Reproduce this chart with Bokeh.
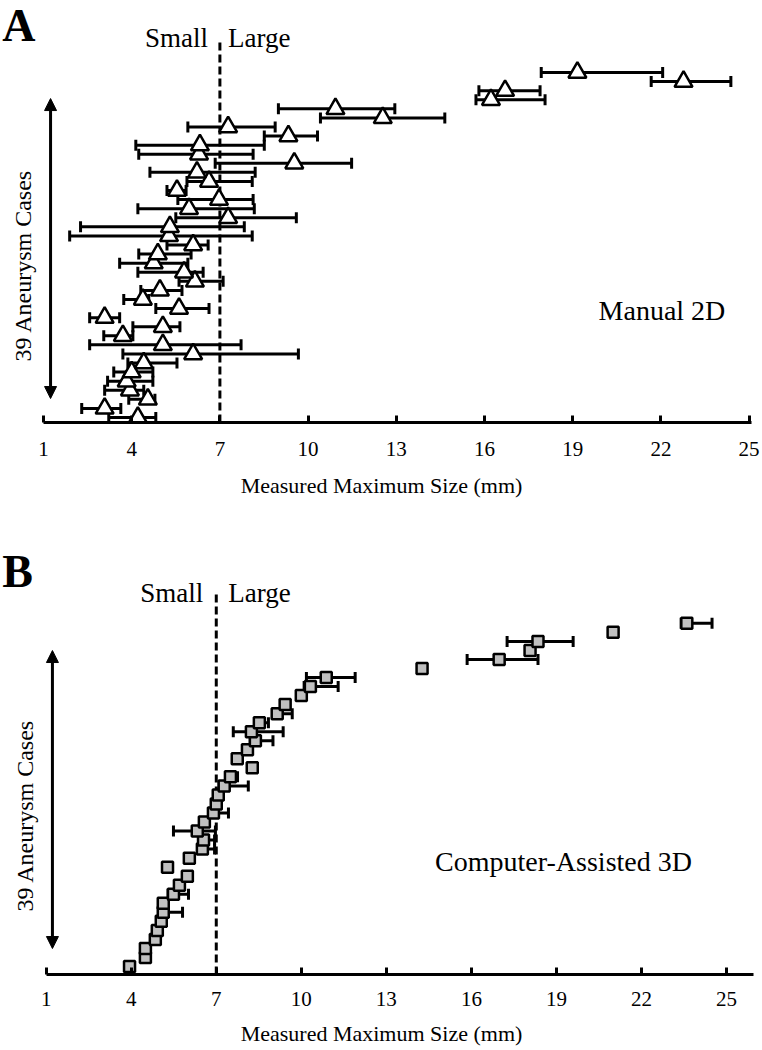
import math
from bokeh.plotting import figure
from bokeh.layouts import column
from bokeh.models import (ColumnDataSource, Whisker, TeeHead, Label, Arrow,
                          NormalHead, FixedTicker)
from bokeh.embed import file_html
from bokeh.resources import INLINE

# ---------------- data ----------------
x_ticks = [1, 4, 7, 10, 13, 16, 19, 22, 25]
threshold = 7
cases = list(range(1, 40))  # case 1 = bottom row

# Panel A: Manual 2D (mean and range per case, bottom -> top)
manual_mean = [4.21, 3.08, 4.55, 3.94, 3.83, 4.00, 4.41, 6.09, 5.06, 3.70,
               5.06, 3.08, 5.61, 4.38, 4.96, 6.15, 5.78, 4.75, 4.89, 6.09,
               5.27, 5.30, 7.28, 5.95, 6.97, 5.54, 6.63, 6.22, 9.53, 6.29,
               6.32, 9.33, 7.28, 12.54, 10.93, 16.22, 16.70, 22.77, 19.16]
manual_low = [3.22, 2.30, 3.90, 3.08, 3.18, 3.39, 3.87, 3.70, 2.57, 3.05,
              4.04, 2.57, 4.82, 3.73, 4.31, 5.61, 4.21, 3.59, 4.24, 5.20,
              1.89, 2.26, 5.50, 4.21, 5.57, 5.20, 5.88, 4.62, 6.84, 4.24,
              4.14, 8.51, 5.91, 10.42, 8.99, 15.71, 15.81, 21.67, 17.93]
manual_high = [4.82, 3.63, 4.79, 4.41, 4.72, 4.72, 5.54, 9.67, 7.72, 4.04,
               5.64, 3.59, 6.63, 4.58, 5.71, 7.11, 6.43, 5.91, 6.02, 6.60,
               8.10, 7.83, 9.60, 8.17, 8.13, 5.85, 8.10, 8.20, 11.48, 8.13,
               8.51, 10.32, 8.88, 14.65, 12.95, 18.06, 17.89, 24.38, 22.06]

# Panel B: Computer-Assisted 3D (bottom -> top)
auto_mean = [3.94, 4.50, 4.50, 4.85, 4.92, 5.06, 5.13, 5.13, 5.49, 5.70,
             5.98, 5.28, 6.05, 6.51, 6.55, 6.33, 6.58, 6.90, 7.00, 7.07,
             7.28, 7.50, 8.27, 7.74, 8.10, 8.38, 8.24, 8.52, 9.15, 9.43,
             10.00, 10.32, 10.88, 14.26, 16.98, 18.07, 18.35, 21.00, 23.60]
auto_low = [3.94, 4.50, 4.50, 4.85, 4.92, 5.06, 5.00, 5.13, 5.30, 5.70,
            5.98, 5.28, 6.05, 6.40, 6.40, 5.49, 6.58, 6.80, 7.00, 7.07,
            7.10, 7.40, 8.10, 7.74, 8.10, 8.20, 7.60, 8.40, 9.00, 9.43,
            10.00, 10.10, 10.18, 14.26, 15.85, 18.07, 17.26, 21.00, 23.40]
auto_high = [3.94, 4.50, 4.50, 4.85, 4.92, 5.06, 5.81, 5.13, 6.02, 5.70,
             5.98, 5.28, 6.05, 6.94, 6.94, 6.97, 6.58, 7.43, 7.00, 7.07,
             8.13, 7.75, 8.40, 7.74, 8.10, 9.00, 9.36, 8.84, 9.68, 9.43,
             10.00, 11.30, 11.90, 14.26, 18.35, 18.07, 19.59, 21.00, 24.49]

SERIF = "Liberation Serif"


def style_axis(p, bounds, standoff, label_standoff):
    ax = p.xaxis[0]
    ax.ticker = FixedTicker(ticks=x_ticks)
    ax.bounds = bounds
    ax.axis_label = "Measured Maximum Size (mm)"
    ax.axis_label_text_font = SERIF
    ax.axis_label_text_font_size = "22px"
    ax.axis_label_text_font_style = "normal"
    ax.axis_label_text_color = "black"
    ax.axis_label_standoff = label_standoff
    ax.major_label_text_font = SERIF
    ax.major_label_text_font_size = "21px"
    ax.major_label_text_color = "black"
    ax.major_label_standoff = standoff
    ax.axis_line_width = 3
    ax.axis_line_color = "black"
    ax.major_tick_line_width = 3
    ax.major_tick_line_color = "black"
    ax.major_tick_in = 7
    ax.major_tick_out = 0
    ax.minor_tick_line_color = None
    p.xgrid.visible = False
    p.ygrid.visible = False
    p.outline_line_color = None


def add_whiskers(p, low, high):
    sel = [i for i in range(len(cases)) if high[i] > low[i]]
    src = ColumnDataSource(dict(
        y=[cases[i] for i in sel],
        lo=[low[i] for i in sel],
        hi=[high[i] for i in sel],
    ))
    w = Whisker(source=src, base="y", lower="lo", upper="hi",
                dimension="width", line_width=3, line_color="black",
                level="underlay",
                lower_head=TeeHead(size=11, line_width=3, line_color="black"),
                upper_head=TeeHead(size=11, line_width=3, line_color="black"))
    p.add_layout(w)


def add_text(p, x, y, text, size, align="left", baseline="middle",
             angle=0.0, x_offset=0, style="normal"):
    p.add_layout(Label(x=x, y=y, text=text, text_font=SERIF,
                       text_font_size=size, text_align=align,
                       text_baseline=baseline, angle=angle,
                       x_offset=x_offset, text_font_style=style,
                       text_color="black"))


def add_arrow(p, x, y0, y1):
    p.add_layout(Arrow(x_start=x, y_start=y0, x_end=x, y_end=y1,
                       line_width=3, line_color="black",
                       start=NormalHead(size=12, fill_color="black", line_color="black"),
                       end=NormalHead(size=12, fill_color="black", line_color="black")))


# ---------------- Panel A ----------------
pA = figure(width=762, height=517, x_range=(-0.4626, 25.456),
            y_range=(0.449, 46.93),
            output_backend="svg", toolbar_location=None, y_axis_location=None,
            min_border_left=0, min_border_right=0, min_border_top=0,
            min_border_bottom=95, background_fill_color="white",
            border_fill_color="white")
style_axis(pA, (1, 25.08), standoff=19, label_standoff=14)
pA.segment(x0=threshold, y0=0.449, x1=threshold, y1=42.74, line_color="black",
           line_width=3, line_dash="8 4")
add_whiskers(pA, manual_low, manual_high)
srcA = ColumnDataSource(dict(x=manual_mean, y=cases))
pA.scatter("x", "y", source=srcA, marker="triangle", size=18,
           fill_color="white", line_color="black", line_width=2.5)
add_arrow(pA, 1.24, 3.09, 36.13)
add_text(pA, threshold, 42.85, "Small", "27px", align="right", x_offset=-12)
add_text(pA, threshold, 42.85, "Large", "27px", align="left", x_offset=8)
add_text(pA, 19.88, 12.78, "Manual 2D", "28px")
add_text(pA, 0.286, 17.74, "39 Aneurysm Cases", "24px", align="center",
         angle=math.pi / 2)
add_text(pA, -0.40, 44.2, "A", "46px", style="bold")

# ---------------- Panel B ----------------
pB = figure(width=762, height=533, x_range=(-0.612, 26.27),
            y_range=(0.114, 50.72),
            output_backend="svg", toolbar_location=None, y_axis_location=None,
            min_border_left=0, min_border_right=0, min_border_top=0,
            min_border_bottom=76, background_fill_color="white",
            border_fill_color="white")
style_axis(pB, (1, 25.97), standoff=17, label_standoff=12)
pB.segment(x0=threshold, y0=0.114, x1=threshold, y1=42.42, line_color="black",
           line_width=3, line_dash="8 4")
add_whiskers(pB, auto_low, auto_high)
srcB = ColumnDataSource(dict(x=auto_mean, y=cases))
pB.scatter("x", "y", source=srcB, marker="square", size=11,
           fill_color="#c0c0c0", line_color="black", line_width=2.5)
add_arrow(pB, 1.22, 2.99, 35.99)
add_text(pB, threshold, 42.31, "Small", "27px", align="right", x_offset=-13)
add_text(pB, threshold, 42.31, "Large", "27px", align="left", x_offset=12)
add_text(pB, 14.72, 12.63, "Computer-Assisted 3D", "28px")
add_text(pB, 0.235, 17.72, "39 Aneurysm Cases", "24px", align="center",
         angle=math.pi / 2)
add_text(pB, -0.55, 44.7, "B", "46px", style="bold")

layout = column(pA, pB)
open("out.html", "w").write(file_html(layout, INLINE))
